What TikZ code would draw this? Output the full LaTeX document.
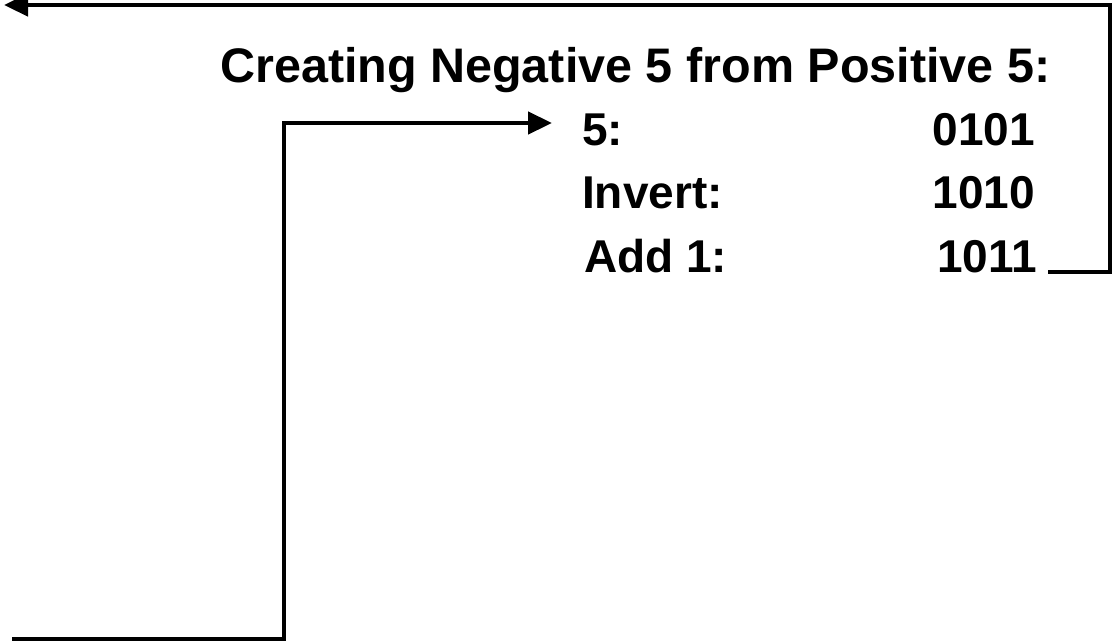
\documentclass[tikz,border=0pt]{standalone}
\usepackage{fontspec}
\setmainfont{Liberation Sans}
\usetikzlibrary{arrows.meta}
\begin{document}
\begin{tikzpicture}[x=1pt,y=-1pt,
  txt/.style={font=\fontsize{46}{50}\selectfont\bfseries, inner sep=0pt, anchor=base west},
  ttl/.style={txt, font=\fontsize{48.5}{52}\selectfont\bfseries},
  conn/.style={line width=4.5pt, line join=miter},
  arr/.style={conn, -{Triangle[length=24pt,width=22pt]}}]
\useasboundingbox (0,0) rectangle (1115,641);
\node[ttl] (title) at (220,82) {Creating Negative 5 from Positive 5:};
\node[txt] (l1) at (582,145) {5:};
\node[txt] (l2) at (582,208) {Invert:};
\node[txt] (l3) at (584,272) {Add 1:};
\node[txt, anchor=base east] (v1) at (1035,145) {0101};
\node[txt, anchor=base east] (v2) at (1035,208) {1010};
\node[txt, anchor=base east] (v3) at (1037,272) {1011};
\coordinate (tl) at (4,5);
\coordinate (bl) at (12,639);
\draw[arr] ([xshift=11pt]v3.base east) -| (1110,5) -- (tl);
\draw[arr] (bl) -| (284,123) -- ([xshift=-30pt]l1.west |- 0,123);
\end{tikzpicture}
\end{document}
